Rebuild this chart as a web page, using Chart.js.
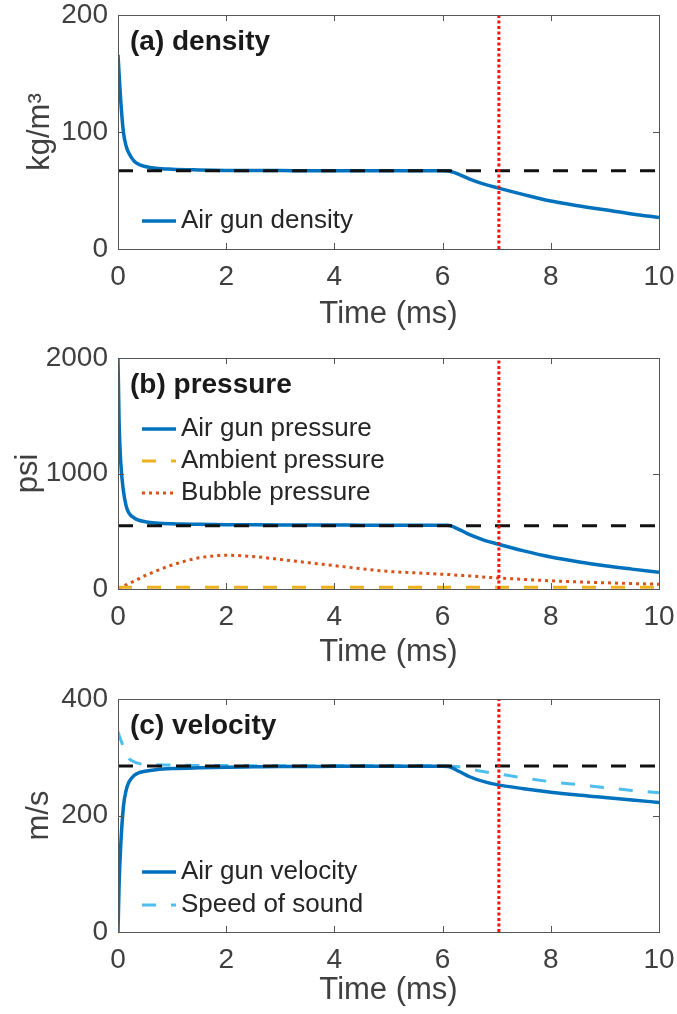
<!DOCTYPE html>
<html>
<head>
<meta charset="utf-8">
<script src="https://cdn.jsdelivr.net/npm/chart.js@4.4.1/dist/chart.umd.min.js"></script>
<style>
  body { margin: 0; background: #fff; }
  .panel { position: absolute; left: 0; width: 677px; height: 338px; }
</style>
</head>
<body>
<div class="panel" style="top:0px"><canvas id="densityChart" width="677" height="338"></canvas></div>
<div class="panel" style="top:338px"><canvas id="pressureChart" width="677" height="338"></canvas></div>
<div class="panel" style="top:676px"><canvas id="velocityChart" width="677" height="338"></canvas></div>
<script>
// sample times (ms), shared by all simulated curves
const time = [0, 0.02, 0.05, 0.1, 0.15, 0.2, 0.3, 0.4, 0.5, 0.7, 1, 1.5, 2, 2.5, 3, 3.5, 4, 4.5, 5, 5.5, 6, 6.1, 6.3, 6.5, 6.75, 7, 7.5, 8, 8.5, 9, 9.5, 10];

// (a) density, kg/m^3
const airGunDensity = [166, 150, 127, 100, 88, 82, 75, 72, 70.5, 69, 68.2, 67.6, 67.2, 67, 67, 66.9, 66.9, 66.8, 66.8, 66.8, 66.8, 66.7, 63.8, 59.8, 55.7, 52.5, 46.5, 41, 37, 33.5, 30, 27];

// (b) pressure, psi
const airGunPressure = [2000, 1450, 1100, 850, 720, 660, 615, 593, 583, 572, 565, 560, 557, 556, 555, 554, 554, 553, 553, 552, 552, 551, 516, 470, 426, 392, 330, 277, 236, 201, 172, 145];
const bubblePressure = [10, 12, 16, 25, 35, 46, 68, 92, 115, 155, 208, 270, 292, 281, 256, 229, 202, 176, 152, 140, 128, 126, 119, 113, 104, 96, 83, 71, 62, 54, 47, 41];
const ambientTime = [0, 10];
const ambientPressure = [15, 15];

// (c) velocity, m/s
const airGunVelocity = [0, 80, 148, 215, 243, 257, 269, 274, 276, 278.5, 280.5, 282, 283, 283.5, 284, 284, 284.5, 284.5, 284.5, 284.5, 284.5, 284, 276, 266.5, 258.5, 253, 246, 240, 235, 231, 226.5, 222.5];
const soundSpeed = [344, 338, 330, 318, 306, 298, 292, 289, 288, 287, 286.5, 286, 286, 285.5, 285.5, 285.5, 285.5, 285.5, 285.5, 285.5, 285.5, 285, 283.5, 280, 275.5, 272, 264.5, 258, 253, 248, 243, 239];

// steady-state reference levels (black dashed)
const refTime = [0, 10];
const densityRef = [66.8, 66.8];
const pressureRef = [548, 548];
const velocityRef = [285, 285];

// event marker (red dotted vertical)
const eventTime = [7.04, 7.04];
const densityEventY = [0, 200];
const pressureEventY = [0, 2000];
const velocityEventY = [0, 400];

const BLUE = '#0072BD', ORANGE = '#D95319', YELLOW = '#EDB120', CYAN = '#4DBEEE', RED = '#FF1010', BLACK = '#111111';
const TEXT = '#404040';
const FONT = "'Liberation Sans', Arial, Helvetica, sans-serif";

function pts(xs, ys) { return xs.map((x, i) => ({ x: x, y: ys[i] })); }

function series(label, xs, ys, color, dash, order, smooth, width) {
  return {
    label: label,
    data: pts(xs, ys),
    borderColor: color,
    borderWidth: width || 3,
    borderDash: dash,
    pointRadius: 0,
    fill: false,
    order: order,
    cubicInterpolationMode: smooth ? 'monotone' : 'default',
    tension: 0
  };
}

// box, inward ticks, panel title and in-plot legend
const panelDecor = {
  id: 'panelDecor',
  afterDatasetsDraw(chart, args, opts) {
    const { ctx, chartArea: a, scales: { x, y } } = chart;
    ctx.save();
    ctx.strokeStyle = '#555';
    ctx.lineWidth = 1;
    ctx.setLineDash([]);
    ctx.strokeRect(a.left + 0.5, a.top + 0.5, a.right - a.left, a.bottom - a.top);
    ctx.beginPath();
    x.ticks.forEach(t => {
      const px = Math.round(x.getPixelForValue(t.value)) + 0.5;
      ctx.moveTo(px, a.bottom); ctx.lineTo(px, a.bottom - 6);
      ctx.moveTo(px, a.top); ctx.lineTo(px, a.top + 6);
    });
    y.ticks.forEach(t => {
      const py = Math.round(y.getPixelForValue(t.value)) + 0.5;
      ctx.moveTo(a.left, py); ctx.lineTo(a.left + 6, py);
      ctx.moveTo(a.right, py); ctx.lineTo(a.right - 6, py);
    });
    ctx.stroke();

    ctx.textBaseline = 'middle';
    ctx.fillStyle = '#1a1a1a';
    ctx.font = 'bold 28px ' + FONT;
    ctx.fillText(opts.title, a.left + 12, a.top + 27);

    ctx.font = '26px ' + FONT;
    opts.legend.forEach((idx, i) => {
      const ds = chart.data.datasets[idx];
      const yy = a.top + opts.legendTop + i * opts.legendGap;
      ctx.strokeStyle = ds.borderColor;
      ctx.lineWidth = ds.borderWidth;
      ctx.setLineDash(ds.borderDash || []);
      ctx.beginPath();
      ctx.moveTo(a.left + 24, yy);
      ctx.lineTo(a.left + 58, yy);
      ctx.stroke();
      ctx.setLineDash([]);
      ctx.fillStyle = '#262626';
      ctx.fillText(ds.label, a.left + 63, yy);
    });
    ctx.restore();
  }
};

function makePanel(id, p) {
  return new Chart(document.getElementById(id), {
    type: 'line',
    data: { datasets: p.datasets },
    plugins: [panelDecor],
    options: {
      responsive: false,
      animation: false,
      events: [],
      layout: { padding: { top: p.top, right: 18, left: 0, bottom: 0 } },
      plugins: {
        legend: { display: false },
        tooltip: { enabled: false },
        panelDecor: { title: p.title, legend: p.legend, legendTop: p.legendTop, legendGap: p.legendGap }
      },
      scales: {
        x: {
          type: 'linear', min: 0, max: 10,
          grid: { display: false, drawTicks: false },
          border: { display: false },
          ticks: { stepSize: 2, color: TEXT, font: { family: FONT, size: 28 }, padding: 11, maxRotation: 0,
                   callback: v => String(v) },
          title: { display: true, text: 'Time (ms)', color: TEXT, font: { family: FONT, size: 31 }, padding: { top: 0, bottom: 5 } },
          afterFit(s) { s.height = p.xHeight; s.paddingLeft = 0; s.paddingRight = 0; }
        },
        y: {
          type: 'linear', min: p.yMin, max: p.yMax,
          grid: { display: false, drawTicks: false },
          border: { display: false },
          ticks: { stepSize: p.yStep, color: TEXT, font: { family: FONT, size: 28 }, padding: 10,
                   callback: v => String(v) },
          title: { display: true, text: p.yLabel, color: TEXT, font: { family: FONT, size: 31 }, padding: { top: p.yTitlePad, bottom: 0 } },
          afterFit(s) { s.width = 118; s.paddingTop = 0; s.paddingBottom = 0; }
        }
      }
    }
  });
}

makePanel('densityChart', {
  title: '(a) density', yLabel: 'kg/m³', yMin: 0, yMax: 200, yStep: 100,
  top: 15, xHeight: 89, yTitlePad: 22,
  legend: [0], legendTop: 206, legendGap: 32,
  datasets: [
    series('Air gun density', time, airGunDensity, BLUE, [], 3, true, 3.5),
    series('ref', refTime, densityRef, BLACK, [15, 14], 1, false),
    series('event', eventTime, densityEventY, RED, [3, 2.5], 0, false)
  ]
});

makePanel('pressureChart', {
  title: '(b) pressure', yLabel: 'psi', yMin: 0, yMax: 2000, yStep: 1000,
  top: 20, xHeight: 87, yTitlePad: 10,
  legend: [0, 1, 2], legendTop: 71, legendGap: 32,
  datasets: [
    series('Air gun pressure', time, airGunPressure, BLUE, [], 3, true, 3.5),
    series('Ambient pressure', ambientTime, ambientPressure, YELLOW, [14, 15], 4, false),
    series('Bubble pressure', time, bubblePressure, ORANGE, [3, 4], 5, true),
    series('ref', refTime, pressureRef, BLACK, [15, 14], 1, false),
    series('event', eventTime, pressureEventY, RED, [3, 2.5], 0, false)
  ]
});

makePanel('velocityChart', {
  title: '(c) velocity', yLabel: 'm/s', yMin: 0, yMax: 400, yStep: 200,
  top: 23, xHeight: 82, yTitlePad: 21,
  legend: [0, 1], legendTop: 173, legendGap: 33,
  datasets: [
    series('Air gun velocity', time, airGunVelocity, BLUE, [], 3, true, 3.5),
    series('Speed of sound', time, soundSpeed, CYAN, [14, 15], 4, true),
    series('ref', refTime, velocityRef, BLACK, [15, 14], 1, false),
    series('event', eventTime, velocityEventY, RED, [3, 2.5], 0, false)
  ]
});
</script>
</body>
</html>
